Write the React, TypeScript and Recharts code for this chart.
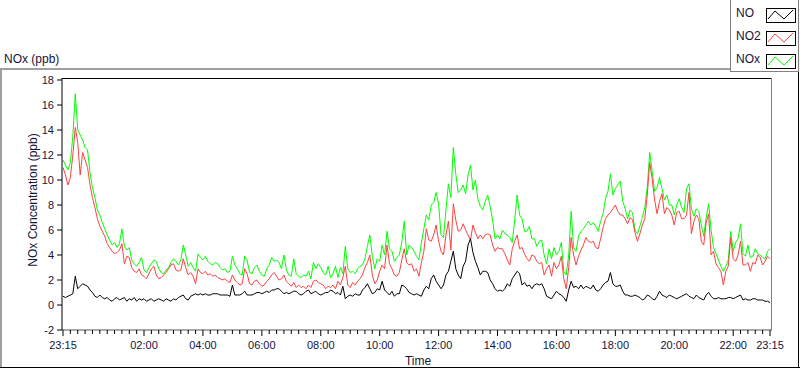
import React from 'react';
import { LineChart, Line, XAxis, YAxis } from 'recharts';

const FONT = '"Liberation Sans", Arial, sans-serif';
const TEXT = '#14143c';

// one value every 5 minutes, starting 23:15, one row = one hour
const no = [
  0.7, 0.6, 0.7, 0.8, 0.9, 2.3, 1.3, 1.5, 1.7, 1.6, 1.5, 1.2,
  1.0, 0.7, 0.6, 0.8, 0.6, 0.5, 0.6, 0.4, 0.3, 0.5, 0.6, 0.4,
  0.5, 0.6, 0.3, 0.5, 0.4, 0.6, 0.3, 0.5, 0.4, 0.5, 0.3, 0.4,
  0.5, 0.3, 0.4, 0.5, 0.4, 0.3, 0.5, 0.4, 0.3, 0.5, 0.4, 0.6,
  0.7, 0.8, 0.5, 0.4, 0.7, 0.8, 0.9, 0.8, 0.9, 0.8, 0.9, 0.8,
  0.8, 0.9, 0.9, 0.9, 0.8, 0.8, 0.8, 0.8, 0.7, 1.6, 0.8, 0.8,
  0.8, 0.9, 1.1, 0.8, 0.8, 0.8, 0.9, 1.0, 1.0, 0.9, 1.0, 1.1,
  1.0, 1.2, 1.2, 1.3, 1.3, 1.1, 0.9, 1.0, 0.9, 1.0, 1.1, 1.1,
  0.9, 0.8, 0.9, 1.1, 1.2, 0.9, 1.0, 1.1, 0.9, 0.8, 0.9, 1.0,
  1.0, 1.2, 1.1, 0.9, 1.0, 0.8, 1.5, 0.5, 0.7, 0.8, 0.7, 0.9,
  0.8, 0.8, 1.2, 1.4, 1.7, 1.3, 0.9, 1.0, 1.3, 1.2, 1.9, 1.2,
  1.0, 0.8, 1.1, 0.7, 0.9, 0.9, 1.6, 1.5, 1.3, 1.0, 0.9, 0.8,
  0.9, 0.8, 0.7, 1.2, 1.5, 1.3, 2.1, 2.4, 1.9, 1.6, 1.3, 1.6,
  2.4, 2.7, 3.5, 4.3, 2.9, 2.4, 2.1, 3.1, 3.5, 4.8, 5.3, 4.2,
  3.5, 3.0, 2.4, 2.7, 2.7, 2.6, 2.0, 1.7, 1.3, 1.1, 1.2, 1.1,
  1.3, 1.7, 1.5, 2.1, 2.4, 2.7, 2.5, 1.6, 1.8, 1.5, 1.6, 1.3,
  1.6, 1.7, 1.6, 1.7, 1.3, 0.7, 0.6, 0.5, 0.8, 1.1, 0.9, 0.8,
  0.6, 0.3, 1.2, 1.9, 1.4, 1.5, 1.3, 1.6, 1.3, 1.5, 1.4, 1.3,
  1.6, 1.2, 1.1, 1.3, 1.6, 1.8, 1.9, 2.6, 1.7, 1.5, 1.5, 1.6,
  1.1, 0.8, 0.8, 0.7, 0.7, 0.8, 0.7, 0.6, 0.4, 0.5, 0.8, 0.7,
  0.5, 0.4, 0.7, 1.1, 0.8, 0.7, 0.6, 0.8, 0.7, 0.6, 0.5, 0.6,
  0.7, 0.8, 0.9, 0.7, 0.6, 0.5, 0.8, 0.6, 0.5, 0.4, 0.8, 1.0,
  0.7, 0.5, 0.5, 0.6, 0.5, 0.5, 0.5, 0.6, 0.6, 0.5, 0.6, 0.7,
  0.8, 0.4, 0.5, 0.4, 0.4, 0.5, 0.5, 0.4, 0.4, 0.4, 0.3, 0.3,
  0.2,
];

const no2 = [
  11.0, 10.4, 9.6, 10.2, 12.0, 14.2, 13.0, 10.4, 12.2, 11.6, 11.0, 9.6,
  8.6, 7.8, 6.9, 6.3, 5.9, 5.5, 4.9, 4.6, 4.3, 4.1, 4.2, 4.4,
  4.9, 3.3, 3.9, 3.8, 3.0, 2.7, 2.6, 2.9, 2.4, 2.3, 2.1, 2.5,
  2.9, 3.1, 2.4, 2.1, 2.2, 2.4, 2.6, 2.9, 3.2, 3.3, 2.8, 2.7,
  2.8, 3.7, 3.0, 2.4, 2.6, 2.3, 1.7, 2.9, 2.6, 2.5, 2.7, 2.4,
  2.5, 2.3, 2.4, 2.2, 2.1, 2.0, 2.1, 1.9, 1.8, 2.4, 2.0, 1.8,
  1.6, 1.7, 2.9, 2.5, 1.7, 1.6, 1.9, 2.0, 1.7, 1.5, 1.6, 1.9,
  2.1, 2.4, 2.6, 2.3, 2.0, 2.1, 2.4, 1.9, 1.7, 1.5, 1.8, 1.4,
  1.6, 1.4, 1.5, 1.3, 1.6, 1.4, 1.9, 2.0, 1.8, 1.7, 1.6, 1.3,
  1.5, 1.4, 1.6, 1.3, 1.9, 1.6, 2.2, 3.1, 1.6, 1.4, 1.8, 1.6,
  1.9, 2.1, 2.4, 3.0, 3.4, 4.0, 2.4, 1.7, 2.0, 2.7, 3.2, 2.9,
  4.8, 3.3, 2.9, 2.4, 2.3, 2.6, 3.6, 4.5, 3.4, 3.2, 3.3, 2.7,
  2.9, 2.3, 3.4, 4.3, 6.1, 5.2, 5.1, 5.6, 6.4, 5.1, 4.3, 4.0,
  5.6, 6.7, 4.4, 8.1, 6.8, 5.9, 6.0, 6.5, 6.0, 5.6, 5.2, 6.4,
  5.8, 5.3, 5.6, 5.3, 5.6, 5.7, 5.6, 4.8, 4.3, 4.6, 4.5, 4.5,
  4.1, 3.6, 3.2, 4.5, 5.1, 5.6, 4.5, 4.6, 4.1, 3.7, 3.5, 4.0,
  3.9, 3.5, 3.3, 3.4, 2.4, 2.9, 3.2, 2.3, 3.4, 2.9, 3.2, 3.9,
  2.1, 1.3, 3.0, 5.4, 4.0, 3.2, 3.9, 4.4, 4.8, 5.4, 5.1, 5.0,
  5.1, 4.6, 4.5, 5.3, 6.2, 6.9, 7.2, 7.4, 7.7, 8.0, 7.5, 7.2,
  7.2, 6.9, 6.5, 7.0, 6.8, 5.8, 5.1, 5.7, 6.4, 6.9, 8.8, 11.4,
  10.1, 8.4, 7.3, 8.3, 8.9, 7.3, 7.8, 7.6, 7.2, 6.4, 7.4, 7.5,
  6.9, 6.9, 7.2, 9.0, 5.7, 6.7, 7.2, 6.9, 5.1, 4.8, 6.6, 7.3,
  4.0, 4.3, 3.3, 3.0, 2.7, 1.6, 2.7, 3.1, 5.4, 3.7, 3.5, 4.0,
  5.1, 3.2, 3.2, 3.4, 2.7, 3.4, 3.3, 4.0, 3.8, 3.2, 3.5, 3.9,
  3.7,
];

const nox = [
  11.6, 11.2, 10.8, 11.4, 13.5, 16.9, 14.0, 13.6, 13.2, 12.6, 12.4, 10.6,
  9.4, 8.6, 7.6, 7.2, 6.6, 6.1, 5.6, 5.2, 4.8, 5.0, 4.6, 4.9,
  6.1, 4.7, 4.4, 4.6, 3.6, 3.3, 3.1, 3.4, 3.8, 2.8, 2.6, 3.0,
  3.3, 3.6, 3.5, 2.9, 2.6, 2.5, 2.8, 3.0, 3.4, 3.7, 3.5, 3.2,
  3.6, 4.8, 4.0, 3.1, 3.4, 3.0, 2.7, 4.1, 3.8, 3.6, 3.9, 3.5,
  3.3, 3.2, 3.4, 3.3, 3.0, 2.8, 2.9, 2.6, 2.7, 3.9, 3.2, 2.9,
  2.5, 2.4, 3.9, 3.6, 2.6, 2.5, 3.0, 3.2, 2.7, 2.4, 2.3, 2.9,
  3.2, 3.8, 3.5, 3.6, 3.4, 2.9, 4.0, 2.8, 2.4, 2.3, 3.7, 2.5,
  2.3, 2.2, 2.4, 2.3, 2.7, 2.1, 3.4, 2.9, 3.3, 3.0, 2.6, 2.4,
  3.1, 2.2, 2.5, 3.1, 2.2, 3.0, 2.5, 4.7, 2.9, 2.6, 2.7, 2.5,
  2.9, 3.1, 3.2, 3.7, 4.7, 5.6, 3.9, 2.9, 3.7, 3.5, 4.8, 4.0,
  5.9, 4.5, 4.3, 3.5, 3.8, 4.0, 5.0, 6.7, 4.0, 4.8, 4.6, 4.3,
  3.9, 3.6, 5.0, 6.1, 7.2, 6.8, 8.0, 8.2, 9.0, 8.1, 5.6, 5.4,
  7.6, 9.7, 8.6, 12.6, 10.5, 9.0, 9.2, 9.6, 8.9, 10.4, 11.2, 9.2,
  10.0, 8.5, 7.9, 7.6, 8.3, 8.8, 7.9, 6.8, 5.3, 5.6, 5.3, 6.0,
  5.7, 5.6, 5.4, 5.0, 6.8, 8.8, 7.2, 6.9, 5.9, 5.9, 6.3, 5.3,
  5.3, 4.7, 5.1, 5.2, 4.0, 3.3, 4.5, 3.7, 4.6, 4.0, 4.3, 5.0,
  2.7, 2.4, 4.0, 7.5, 4.6, 4.3, 5.5, 5.9, 6.1, 6.4, 6.7, 6.4,
  6.6, 6.3, 5.9, 6.7, 7.3, 8.5, 9.1, 10.5, 8.8, 9.3, 9.6, 9.9,
  8.3, 7.7, 6.9, 7.6, 7.4, 6.0, 5.7, 6.3, 7.0, 7.8, 9.4, 12.2,
  10.7, 9.1, 9.4, 10.2, 9.3, 8.4, 8.8, 8.0, 8.0, 7.2, 8.0, 8.5,
  7.8, 7.4, 9.3, 9.7, 7.7, 7.1, 7.7, 7.5, 6.4, 5.5, 7.0, 8.1,
  6.0, 4.6, 4.1, 3.6, 3.1, 2.7, 3.1, 3.6, 5.9, 4.3, 5.0, 5.3,
  6.5, 4.1, 3.9, 4.8, 3.8, 3.9, 4.5, 4.1, 4.0, 3.8, 3.7, 4.3,
  4.5,
];

// minutes since 23:15
const minutes = no.map((_, i) => i * 5);

const majorTicks = [0, 165, 285, 405, 525, 645, 765, 885, 1005, 1125, 1245, 1365, 1440];
const majorLabels = ['23:15', '02:00', '04:00', '06:00', '08:00', '10:00', '12:00', '14:00', '16:00', '18:00', '20:00', '22:00', '23:15'];
const minorTicks = Array.from({ length: 97 }, (_, i) => i * 15);
const yTicks = [-2, 0, 2, 4, 6, 8, 10, 12, 14, 16, 18];

const seriesNames = ['NO', 'NO2', 'NOx'];
const seriesColors = ['#000000', '#ff4040', '#00ff00'];

const data = minutes.map((t, i) => ({ t, no: no[i], no2: no2[i], nox: nox[i] }));

const TimeTick = (props: any) => {
  const { x, y, payload } = props;
  const idx = majorTicks.indexOf(payload.value);
  const major = idx >= 0;
  return (
    <g>
      <line x1={x} x2={x} y1={y} y2={y + (major ? 6 : 4)} stroke="#000" />
      {major && (
        <text x={x} y={y + 19} textAnchor="middle" fontSize={11} fill={TEXT} fontFamily={FONT}>
          {majorLabels[idx]}
        </text>
      )}
    </g>
  );
};

const LegendSwatch = ({ y, color }: { y: number; color: string }) => (
  <g>
    <rect x={766.5} y={y + 0.5} width={29} height={14} fill="#fff" stroke="#000" />
    <polyline
      points={`768,${y + 11} 775,${y + 3} 784,${y + 11} 793,${y + 2}`}
      fill="none"
      stroke={color}
    />
  </g>
);

export default function App() {
  return (
    <div style={{ position: 'absolute', left: 0, top: 0, width: 800, height: 369, background: '#fff' }}>
      <LineChart
        width={800}
        height={369}
        data={data}
        margin={{ top: 78, right: 28, bottom: 0, left: 0 }}
      >
        <XAxis
          dataKey="t"
          type="number"
          domain={[0, 1440]}
          ticks={minorTicks}
          interval={0}
          height={39}
          padding={{ left: 1, right: 2 }}
          tickSize={0}
          tickMargin={0}
          tickLine={false}
          tick={<TimeTick />}
          axisLine={{ stroke: '#555' }}
        />
        <YAxis
          type="number"
          domain={[-2, 18]}
          ticks={yTicks}
          interval={0}
          width={62}
          padding={{ top: 2 }}
          tickSize={5}
          tickMargin={3}
          tick={{ fontSize: 11, fill: TEXT, fontFamily: FONT }}
          tickLine={{ stroke: '#000' }}
          axisLine={{ stroke: '#000' }}
        />
        <Line type="linear" dataKey="nox" stroke={seriesColors[2]} strokeWidth={1} dot={false} isAnimationActive={false} />
        <Line type="linear" dataKey="no2" stroke={seriesColors[1]} strokeWidth={1} dot={false} isAnimationActive={false} />
        <Line type="linear" dataKey="no" stroke={seriesColors[0]} strokeWidth={1} dot={false} isAnimationActive={false} />
      </LineChart>

      <svg
        width={800}
        height={369}
        style={{ position: 'absolute', left: 0, top: 0, pointerEvents: 'none' }}
      >
        {/* panel frame */}
        <line x1={0} x2={731} y1={69} y2={69} stroke="#a0a0a0" strokeWidth={2} />
        <line x1={1} x2={1} y1={68} y2={368} stroke="#a0a0a0" strokeWidth={2} />
        <line x1={0} x2={800} y1={367.5} y2={367.5} stroke="#000" />
        <line x1={798.5} x2={798.5} y1={72} y2={368} stroke="#000" />
        {/* plot frame */}
        <line x1={62} x2={772} y1={78.5} y2={78.5} stroke="#000" />
        <line x1={771.5} x2={771.5} y1={78} y2={330} stroke="#808080" />

        <text x={4} y={63} fontSize={12} fill={TEXT} fontFamily={FONT}>NOx (ppb)</text>
        <text
          transform="translate(37,200) rotate(-90)"
          textAnchor="middle"
          fontSize={12}
          fill={TEXT}
          fontFamily={FONT}
        >
          NOx Concentration (ppb)
        </text>
        <text x={418} y={365} textAnchor="middle" fontSize={12} fill={TEXT} fontFamily={FONT}>Time</text>

        {/* legend */}
        <rect x={730.5} y={-1} width={68} height={72.5} fill="#fff" stroke="#808080" />
        {seriesNames.map((name, i) => (
          <g key={name}>
            <text x={736} y={17 + i * 23} fontSize={12} fill={TEXT} fontFamily={FONT}>{name}</text>
            <LegendSwatch y={8 + i * 23} color={seriesColors[i]} />
          </g>
        ))}
      </svg>
    </div>
  );
}
